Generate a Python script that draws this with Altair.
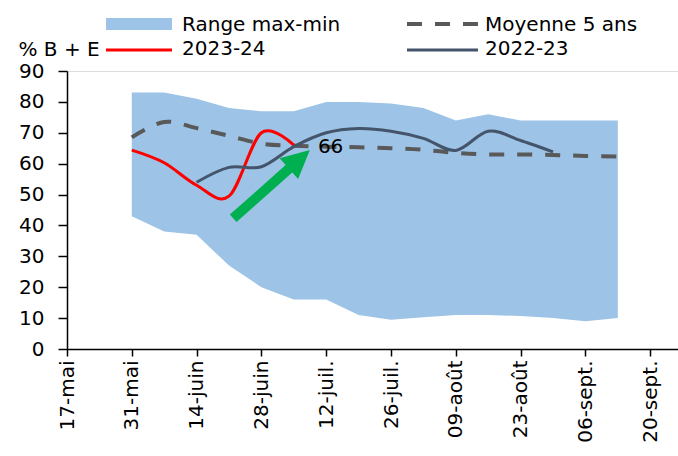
import altair as alt
import pandas as pd

# ---------------- data ----------------
origin = "2024-05-17"
week_dates = ["2024-05-31", "2024-06-07", "2024-06-14", "2024-06-21", "2024-06-28",
              "2024-07-05", "2024-07-12", "2024-07-19", "2024-07-26", "2024-08-02",
              "2024-08-09", "2024-08-16", "2024-08-23", "2024-08-30", "2024-09-06",
              "2024-09-13"]
band_max = [83, 83, 81, 78, 77, 77, 80, 80, 79.5, 78, 74, 76, 74, 74, 74, 74]
band_min = [43, 38, 37, 27, 20, 16, 16, 11, 9.5, 10.3, 11, 11, 10.7, 10, 9, 10]
avg5 = [68.5, 73.5, 71.5, 69, 66.5, 65.8, 65.5, 65.3, 65, 64.5, 63.5, 63, 63, 62.8, 62.5, 62.3]
s2324_dates = week_dates[:6]
s2324 = [64.4, 60.3, 53, 49.5, 70, 66]
s2223_dates = week_dates[2:14]
s2223 = [54, 58.8, 59, 65.5, 70, 71.4, 70.5, 68.2, 64.3, 70.5, 67.5, 63.8]

tick_dates = ["2024-05-17", "2024-05-31", "2024-06-14", "2024-06-28", "2024-07-12",
              "2024-07-26", "2024-08-09", "2024-08-23", "2024-09-06", "2024-09-20"]
tick_labels = ["17-mai", "31-mai", "14-juin", "28-juin", "12-juil.", "26-juil.",
               "09-août", "23-août", "06-sept.", "20-sept."]
y_ticks = [0, 10, 20, 30, 40, 50, 60, 70, 80, 90]

# annotation (arrow + label), in data units (days since origin, %)
arrow_day = [35.9, 48.0]
arrow_val = [42.3, 58.4]
arrow_head_day = [50.2]
arrow_head_val = [61.4]
label_day = [54.2]
label_val = [65.4]
label_text = ["66"]

# ---------------- helpers ----------------
o = pd.Timestamp(origin)
def days(ds):
    return [(pd.Timestamp(d) - o).days for d in ds]

df_band = pd.DataFrame({"day": days(week_dates), "max": band_max, "min": band_min, "avg": avg5})
df_24 = pd.DataFrame({"day": days(s2324_dates), "v": s2324})
df_23 = pd.DataFrame({"day": days(s2223_dates), "v": s2223})
df_arrow = pd.DataFrame({"d1": [arrow_day[0]], "d2": [arrow_day[1]],
                         "v1": [arrow_val[0]], "v2": [arrow_val[1]]})
df_head = pd.DataFrame({"day": arrow_head_day, "v": arrow_head_val})
df_lab = pd.DataFrame({"day": label_day, "v": label_val, "t": label_text})

tick_days = days(tick_dates)
label_js = "[" + ",".join("'" + t + "'" for t in tick_labels) + "]"

FONT = "DejaVu Sans"
xscale = alt.Scale(domain=[0, 132], nice=False, zero=False)
yscale = alt.Scale(domain=[0, 90], nice=False)

xaxis = alt.Axis(values=tick_days, labelExpr=label_js + "[round(datum.value/14)]",
                 labelAngle=270, labelAlign="right", labelBaseline="middle",
                 labelFontSize=20, labelPadding=4, labelColor="black", labelFont=FONT,
                 tickSize=7, tickColor="black", tickWidth=1.5, domainColor="black",
                 domainWidth=1.5, grid=False, title=None, labelOverlap=False)
yaxis = alt.Axis(values=y_ticks, labelFontSize=20, labelColor="black", labelFont=FONT,
                 labelPadding=14, tickSize=9, tickColor="black", tickWidth=1.5,
                 domainColor="black", domainWidth=1.5, grid=False, labelOverlap=False,
                 title="% B + E", titleAngle=0, titleAlign="left", titleBaseline="alphabetic",
                 titleX=-49, titleY=-16, titleFontSize=20, titleFontWeight="normal",
                 titleColor="black", titleFont=FONT)

def X(field):
    return alt.X(field, scale=xscale, axis=xaxis)

def Y(field):
    return alt.Y(field, scale=yscale, axis=yaxis)

band = alt.Chart(df_band).mark_area(color="#9DC3E6", opacity=1).encode(
    x=X("day:Q"), y=Y("max:Q"), y2="min:Q")

avg_line = alt.Chart(df_band).mark_line(color="#595959", strokeWidth=4,
                                        strokeDash=[15, 13], interpolate="cardinal",
                                        tension=0).encode(x=X("day:Q"), y=Y("avg:Q"))

red_line = alt.Chart(df_24).mark_line(color="#FF0000", strokeWidth=3,
                                      interpolate="cardinal", tension=0).encode(
    x=X("day:Q"), y=Y("v:Q"))

navy_line = alt.Chart(df_23).mark_line(color="#44546A", strokeWidth=3,
                                       interpolate="cardinal", tension=0).encode(
    x=X("day:Q"), y=Y("v:Q"))

shaft = alt.Chart(df_arrow).mark_rule(color="#00B050", strokeWidth=10, strokeCap="butt").encode(
    x=X("d1:Q"), x2="d2:Q", y=Y("v1:Q"), y2="v2:Q")

head = alt.Chart(df_head).mark_point(shape="M0,-1L1,1L-1,1Z", filled=True, size=784,
                                     angle=48.5, color="#00B050", opacity=1,
                                     strokeWidth=0).encode(x=X("day:Q"), y=Y("v:Q"))

lab = alt.Chart(df_lab).mark_text(align="left", baseline="middle", fontSize=20,
                                  color="black", font=FONT).encode(
    x=X("day:Q"), y=Y("v:Q"), text="t:N")

# ---------------- manual legend ----------------
dummy = pd.DataFrame({"a": [0]})
leg_rect = alt.Chart(dummy).mark_rect(color="#9DC3E6").encode(
    x=alt.value(39), x2=alt.value(105), y=alt.value(-53), y2=alt.value(-41))
leg_red = alt.Chart(dummy).mark_rule(color="#FF0000", strokeWidth=3).encode(
    x=alt.value(39), x2=alt.value(105), y=alt.value(-21))
leg_dash = alt.Chart(dummy).mark_rule(color="#595959", strokeWidth=4,
                                      strokeDash=[15, 13]).encode(
    x=alt.value(340), x2=alt.value(411), y=alt.value(-47))
leg_navy = alt.Chart(dummy).mark_rule(color="#44546A", strokeWidth=3).encode(
    x=alt.value(340), x2=alt.value(411), y=alt.value(-21))

def leg_text(txt, x, y):
    return alt.Chart(dummy).mark_text(align="left", baseline="alphabetic", fontSize=20,
                                      color="black", font=FONT).encode(
        x=alt.value(x), y=alt.value(y), text=alt.value(txt))

legend = [leg_rect, leg_red, leg_dash, leg_navy,
          leg_text("Range max-min", 115, -40), leg_text("2023-24", 115, -16),
          leg_text("Moyenne 5 ans", 418, -40), leg_text("2022-23", 418, -16)]

chart = alt.layer(band, avg_line, red_line, navy_line, shaft, head, lab, *legend).properties(
    width=611, height=278,
    autosize=alt.AutoSizeParams(type="none"),
    padding={"left": 67, "top": 71, "right": 0, "bottom": 107},
).configure_view(stroke=None).configure(font=FONT)

chart.save("out.html", embed_options={"renderer": "svg", "actions": False})
